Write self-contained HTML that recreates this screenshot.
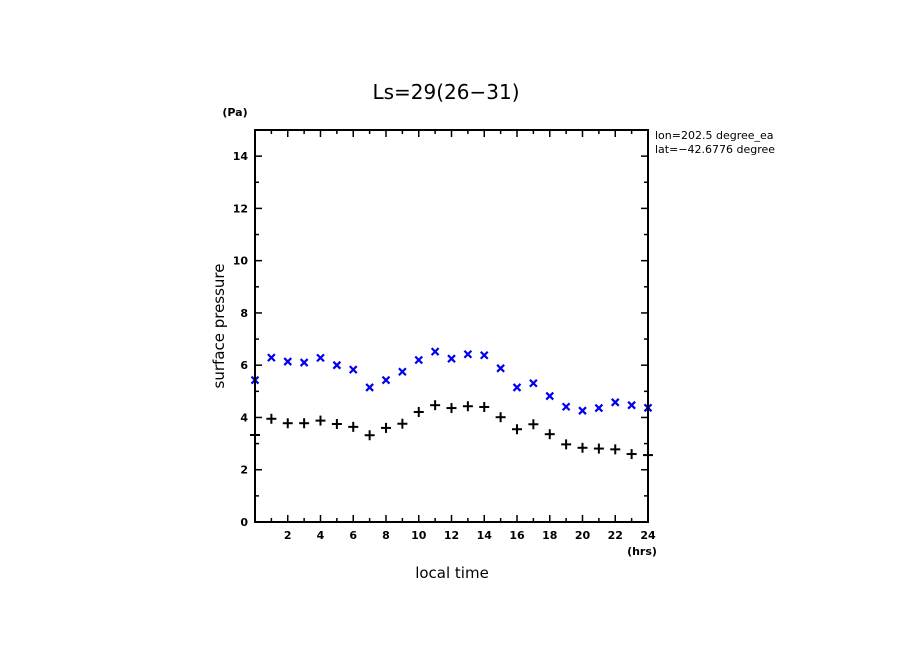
<!DOCTYPE html>
<html><head><meta charset="utf-8"><style>
body{margin:0;background:#fff;}
svg{display:block;font-family:"DejaVu Sans","Liberation Sans",sans-serif;}
</style></head><body>
<svg id="chart" width="904" height="654" xmlns="http://www.w3.org/2000/svg">
<text x="446" y="99" font-size="20" text-anchor="middle">Ls=29(26−31)</text>
<text x="235" y="116" font-size="11" font-weight="bold" text-anchor="middle">(Pa)</text>
<text x="642" y="555" font-size="11" font-weight="bold" text-anchor="middle">(hrs)</text>
<text x="452" y="578" font-size="15" text-anchor="middle">local time</text>
<text transform="translate(224,326) rotate(-90)" font-size="15" text-anchor="middle">surface pressure</text>
<text x="655" y="139" font-size="11">lon=202.5 degree_ea</text>
<text x="655" y="153" font-size="11">lat=−42.6776 degree</text>
<g id="axes"></g>
<g id="marks"></g>
<rect x="255" y="130" width="393" height="392" fill="none" stroke="#000" stroke-width="2"/>
<rect x="780" y="125" width="124" height="40" fill="#fff"/>
</svg>
<script>
const hours=[0,1,2,3,4,5,6,7,8,9,10,11,12,13,14,15,16,17,18,19,20,21,22,23,24];
const blueSeries=[5.43,6.29,6.14,6.10,6.28,6.00,5.83,5.15,5.43,5.75,6.20,6.52,6.25,6.42,6.38,5.88,5.15,5.31,4.82,4.41,4.26,4.36,4.58,4.47,4.37];
const blackSeries=[3.33,3.95,3.78,3.78,3.88,3.75,3.64,3.32,3.60,3.76,4.21,4.47,4.36,4.43,4.40,4.01,3.55,3.74,3.36,2.97,2.84,2.81,2.78,2.60,2.56];
const xTicks=[2,4,6,8,10,12,14,16,18,20,22,24];
const yTicks=[0,2,4,6,8,10,12,14];
const X0=255,X1=648,Y0=522,Y1=130;
const sx=v=>X0+(v/24)*(X1-X0);
const sy=v=>Y0-(v/15)*(Y0-Y1);
const NS="http://www.w3.org/2000/svg";
const axes=document.getElementById('axes'),marks=document.getElementById('marks');
function line(p,x1,y1,x2,y2,c,w){const l=document.createElementNS(NS,'line');l.setAttribute('x1',x1);l.setAttribute('y1',y1);l.setAttribute('x2',x2);l.setAttribute('y2',y2);l.setAttribute('stroke',c);l.setAttribute('stroke-width',w);p.appendChild(l);return l;}
for(let h=1;h<24;h++){const maj=h%2===0;const L=maj?7:4;const x=sx(h);
const t1=line(axes,x,Y0,x,Y0-L,'#000',1.5);


const t2=line(axes,x,Y1,x,Y1+L,'#000',1.5);

}
for(let v=1;v<15;v++){const maj=v%2===0;const L=maj?7:4;const y=sy(v);
const t1=line(axes,X0,y,X0+L,y,'#000',1.5);


const t2=line(axes,X1,y,X1-L,y,'#000',1.5);

}
xTicks.forEach(v=>{const t=document.createElementNS(NS,'text');t.setAttribute('x',sx(v));t.setAttribute('y',539);t.setAttribute('font-size','11');t.setAttribute('font-weight','bold');t.setAttribute('text-anchor','middle');t.textContent=v;


axes.appendChild(t);});
yTicks.forEach(v=>{const t=document.createElementNS(NS,'text');t.setAttribute('x',248);t.setAttribute('y',sy(v)+4);t.setAttribute('font-size','11');t.setAttribute('font-weight','bold');t.setAttribute('text-anchor','end');t.textContent=v;


axes.appendChild(t);});
hours.forEach((h,i)=>{const x=sx(h),y=sy(blueSeries[i]);const g=document.createElementNS(NS,'g');


line(g,x-3.5,y-3.5,x+3.5,y+3.5,'#0000ee',2.2);line(g,x-3.5,y+3.5,x+3.5,y-3.5,'#0000ee',2.2);marks.appendChild(g);
const y2=sy(blackSeries[i]);const g2=document.createElementNS(NS,'g');


line(g2,x-5,y2,x+5,y2,'#000',2);line(g2,x,y2-5,x,y2+5,'#000',2);marks.appendChild(g2);});
</script>
</body></html>
